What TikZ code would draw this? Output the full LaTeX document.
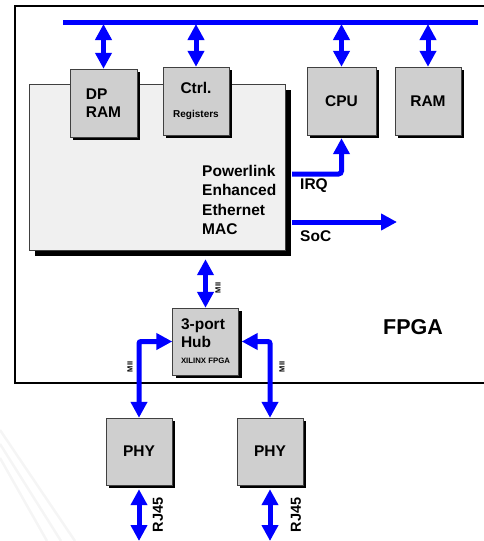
\documentclass[tikz,border=0pt]{standalone}
\usepackage{fontspec}
\setmainfont{Liberation Sans}
\usetikzlibrary{positioning,arrows.meta,calc,shadows}

\begin{document}
\begin{tikzpicture}[x=1pt,y=-1pt,
                    chip/.style={draw=black!75,fill=black!19,inner sep=0pt,
                                 minimum width=67pt,minimum height=68pt,
                                 align=center,font=\fontsize{15.5}{18}\selectfont\bfseries,
                                 drop shadow={shadow xshift=3pt,shadow yshift=-3pt,
                                              fill=black,opacity=1}},
                    bibar/.style={draw=blue,line width=5pt,{Triangle[length=16pt,width=16pt]}-{Triangle[length=16pt,width=16pt]}},
                    tobar/.style={draw=blue,line width=5pt,-{Triangle[length=16pt,width=16pt]}},
                    lbl/.style={inner sep=0pt,font=\fontsize{15.5}{18}\selectfont\bfseries},
                    tiny/.style={inner sep=0pt,rotate=90,font=\fontsize{7.5}{8}\selectfont\bfseries}]
  \useasboundingbox (0,0) rectangle (484,541);

  % faint background streaks
  \foreach \s in {0,14,28}
    \draw[black!4,line width=2.5pt] (0,430+\s) -- (75-\s,541);

  % FPGA outline and bus
  \draw[line width=2pt] (15,6) rectangle (500,383);
  \coordinate (busL) at (63,22);
  \coordinate (busR) at (478,22);
  \draw[blue,line width=5pt] (busL) -- (busR);

  % MAC block
  \node[draw=black!75,fill=black!6,inner sep=0pt,minimum width=256pt,minimum height=166pt,
        drop shadow={shadow xshift=6pt,shadow yshift=-6pt,fill=black,opacity=1}]
        (mac) at (157,167) {};
  \node[lbl,align=left,anchor=north west,font=\fontsize{15.5}{19.5}\selectfont\bfseries]
        (mactxt) at (202,165) {Powerlink\\Enhanced\\Ethernet\\MAC};

  \node[chip,align=left]        (dp)   at (103.5,103) {DP\\RAM};
  \node[chip,minimum width=66pt] (ctrl) at (196,101)
        {Ctrl.\\[6pt]{\fontsize{10}{12}\selectfont Registers}};
  \node[chip,minimum width=69pt] (cpu)  at (341.5,101) {CPU};
  \node[chip,minimum width=66pt] (ram)  at (428,101) {RAM};

  \node[chip,minimum width=66pt,minimum height=67pt,align=left] (hub) at (205.5,341.5)
        {3-port\\Hub\\[-2pt]{\fontsize{7.8}{9}\selectfont XILINX FPGA}};
  \node[chip,minimum width=66pt,minimum height=67pt] (phyA) at (139,451.5) {PHY};
  \node[chip,minimum width=66pt,minimum height=67pt] (phyB) at (270,451.5) {PHY};

  \node[lbl,font=\fontsize{21.5}{24}\selectfont\bfseries] (fpga) at (413,327) {FPGA};

  % bus connections
  \foreach \b in {dp,ctrl,cpu,ram}
    \draw[bibar] ([yshift=-2pt]\b.north |- busL) -- (\b.north);

  % IRQ and SoC
  \coordinate (irq) at (292,174);
  \coordinate (soc) at (292,222);
  \coordinate (socend) at (397,222);
  \draw[tobar,rounded corners=3pt] (irq) -| ([yshift=-3pt]cpu.south);
  \draw[tobar] (soc) -- (socend);
  \node[lbl,anchor=west] (irqtxt) at (300,186) {IRQ};
  \node[lbl,anchor=west] (soctxt) at (300,236) {SoC};

  % MII links
  \draw[bibar] ([yshift=-9pt]mac.south -| hub.north) -- (hub.north);
  \draw[bibar,rounded corners=2pt] (phyA.north) |- (hub.west);
  \draw[bibar,rounded corners=2pt] (phyB.north) |- ([xshift=3pt]hub.east);
  \node[tiny] (miiM) at (218,288) {MII};
  \node[tiny] (miiA) at (130,367) {MII};
  \node[tiny] (miiB) at (282,367) {MII};

  % RJ45
  \coordinate (bot) at (0,541);
  \draw[bibar] ([yshift=-4pt]phyA.south) -- (phyA.south |- bot);
  \draw[bibar] ([yshift=-4pt]phyB.south) -- (phyB.south |- bot);
  \node[lbl,rotate=90,font=\fontsize{14.5}{16}\selectfont\bfseries] (rjA) at (158,515) {RJ45};
  \node[lbl,rotate=90,font=\fontsize{14.5}{16}\selectfont\bfseries] (rjB) at (296,515) {RJ45};
\end{tikzpicture}
\end{document}
